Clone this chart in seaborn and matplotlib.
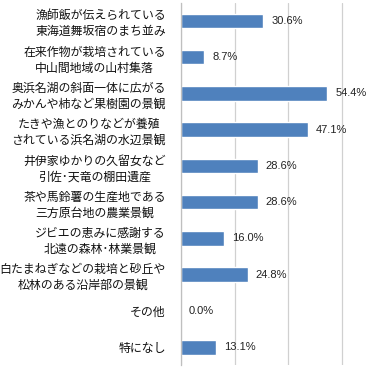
import matplotlib
matplotlib.use("Agg")
import matplotlib.pyplot as plt
import seaborn as sns
import pandas as pd

# survey answers (multiple choice), percent of respondents
categories = [
    "漁師飯が伝えられている\n東海道舞坂宿のまち並み",
    "在来作物が栽培されている\n中山間地域の山村集落",
    "奥浜名湖の斜面一体に広がる\nみかんや柿など果樹園の景観",
    "たきや漁とのりなどが養殖\nされている浜名湖の水辺景観",
    "井伊家ゆかりの久留女など\n引佐･天竜の棚田遺産",
    "茶や馬鈴薯の生産地である\n三方原台地の農業景観",
    "ジビエの恵みに感謝する\n北遠の森林･林業景観",
    "白たまねぎなどの栽培と砂丘や\n松林のある沿岸部の景観",
    "その他",
    "特になし",
]
values = [30.6, 8.7, 54.4, 47.1, 28.6, 28.6, 16.0, 24.8, 0.0, 13.1]
xticks = [0, 20, 40, 60]

sns.set_theme(style="white")
plt.rcParams['font.family'] = ['Noto Sans CJK JP', 'DejaVu Sans']

df = pd.DataFrame({"item": categories, "pct": values})

fig = plt.figure(figsize=(3.72, 3.69), dpi=100)
ax = fig.add_axes([0.4866, 0.0098, 0.5134, 0.983])

sns.barplot(data=df, x="pct", y="item", color="#4F81BD", saturation=1,
            width=0.4, ax=ax)

for i, v in enumerate(values):
    ax.text(v + 3.0, i, f"{v:.1f}%", va="center", ha="left",
            fontsize=8, color="#222222", family=['Liberation Sans', 'DejaVu Sans'])

ax.set_xlim(0, 71.1)
ax.set_ylim(len(categories) - 0.5, -0.5)
ax.set_xticks(xticks)
ax.set_xticklabels([])
ax.tick_params(axis="x", length=0)
ax.tick_params(axis="y", length=0, pad=11)
ax.xaxis.grid(True, color="#D0D0D0", linewidth=0.9)
ax.set_axisbelow(True)
ax.set_xlabel("")
ax.set_ylabel("")

for lbl in ax.get_yticklabels():
    lbl.set_fontsize(8.6)
    lbl.set_multialignment("center")
    lbl.set_linespacing(1.3)
    lbl.set_color("#111111")

for s in ["top", "right", "bottom"]:
    ax.spines[s].set_visible(False)
ax.spines["left"].set_color("#BFBFBF")
ax.spines["left"].set_linewidth(0.9)

fig.savefig("out.png", dpi=100)
